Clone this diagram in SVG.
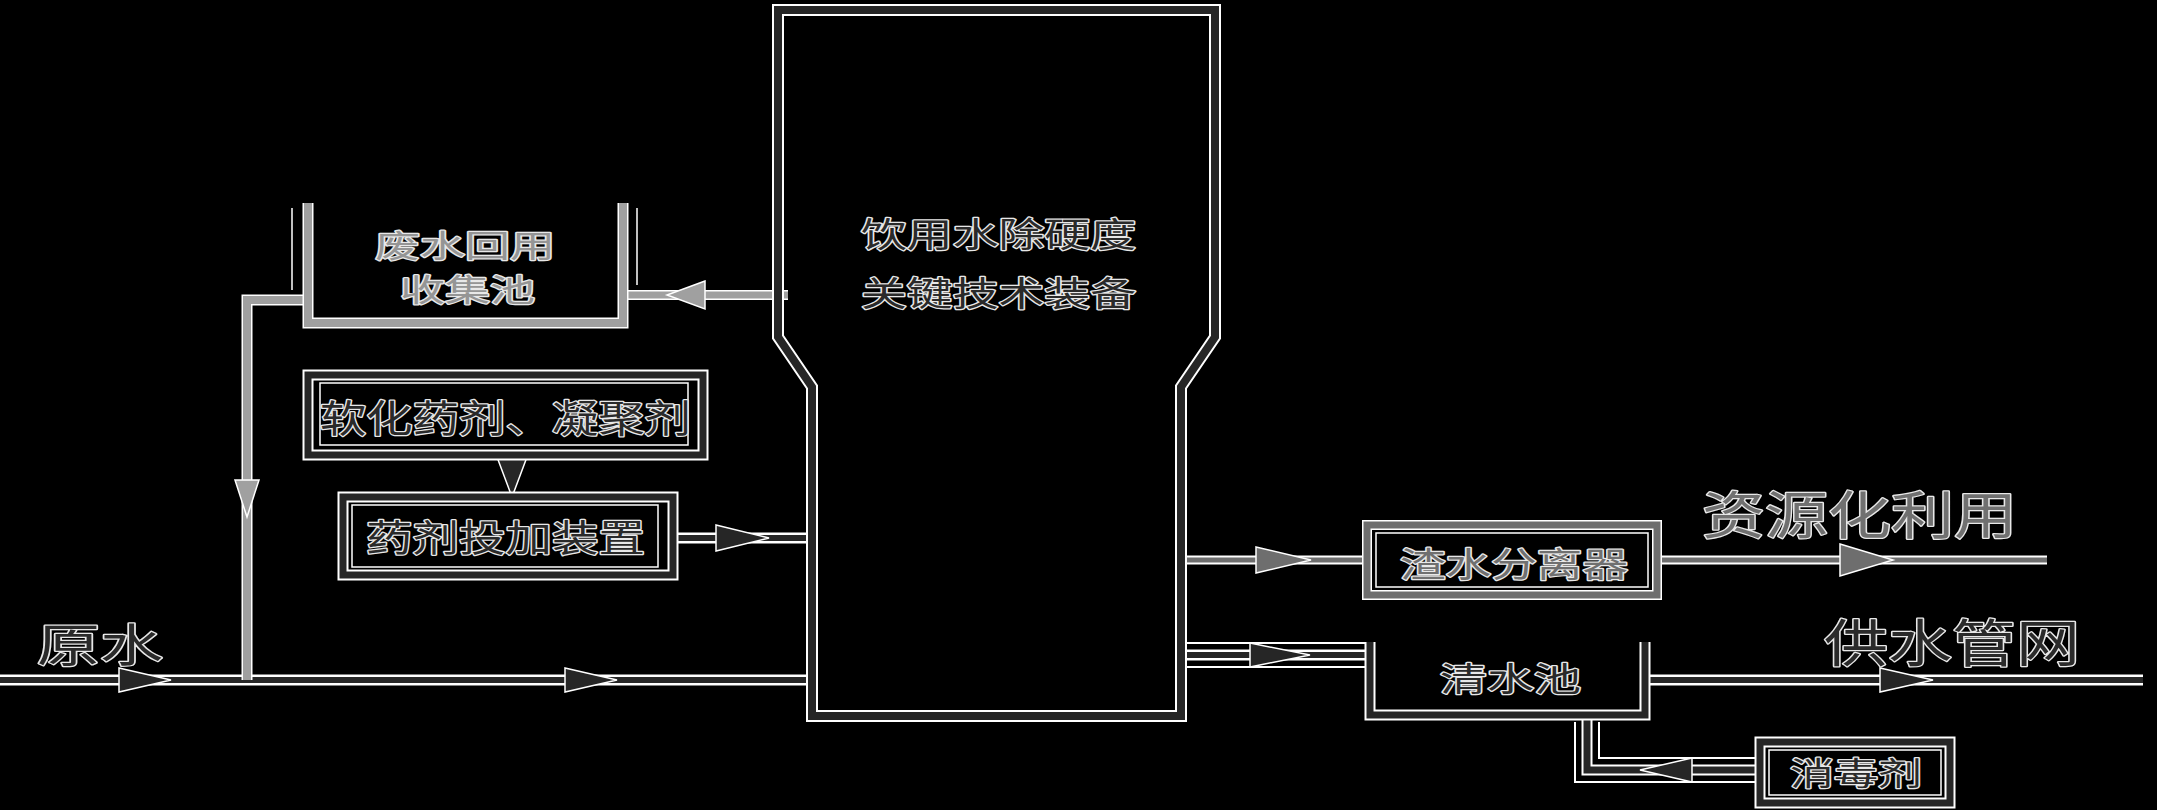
<svg xmlns="http://www.w3.org/2000/svg" width="2157" height="810" viewBox="0 0 2157 810">
<style>
.halo{fill:none;stroke:#fff;stroke-linejoin:miter}
.dk{fill:none;stroke:#262626;stroke-linejoin:miter}
.gr{fill:none;stroke:#a0a0a0;stroke-linejoin:miter}
.gm{fill:none;stroke:#6e6e6e;stroke-linejoin:miter}
.thin{fill:none;stroke:#fff;stroke-width:1.5}
.ahd{fill:#262626;stroke:#fff;stroke-width:1.5;stroke-linejoin:miter}
.ahg{fill:#a0a0a0;stroke:#fff;stroke-width:1.5;stroke-linejoin:miter}
.ahm{fill:#6e6e6e;stroke:#fff;stroke-width:1.5;stroke-linejoin:miter}
.tx{font-family:"Noto Sans CJK SC","Noto Sans CJK TC",sans-serif;dominant-baseline:central;paint-order:stroke;stroke:#e8e8e8;stroke-width:2.5;stroke-linejoin:round}
.td{fill:#2a2a2a}
.tg{fill:#959595}
.tm{fill:#707070}
</style>
<rect x="0" y="0" width="2157" height="810" fill="#000"/>

<g id="connectors">
  <path class="halo" stroke-width="11" d="M0,680 L812,680"/>
  <path class="dk" stroke-width="6" d="M0,680 L812,680"/>
  <polygon class="ahd" points="119,668 171,680 119,692"/>
  <polygon class="ahd" points="565,668 617,680 565,692"/>
  <path class="halo" stroke-width="11" d="M308,300 L247,300 L247,680"/>
  <path class="gr" stroke-width="8" d="M308,300 L247,300 L247,680"/>
  <polygon class="ahg" points="235,480 247,517 259,480"/>
  <path class="halo" stroke-width="10" d="M788,295 L627,295"/>
  <path class="gr" stroke-width="7" d="M788,295 L627,295"/>
  <polygon class="ahg" points="705,281 667,295 705,309"/>
  <polygon class="ahd" points="497,457 527,457 512,497"/>
  <path class="halo" stroke-width="11" d="M673,538 L810,538"/>
  <path class="dk" stroke-width="6" d="M673,538 L810,538"/>
  <polygon class="ahd" points="716,525 769,538 716,551"/>
  <path class="halo" stroke-width="9" d="M1183,560 L1367,560"/>
  <path class="gm" stroke-width="5" d="M1183,560 L1367,560"/>
  <polygon class="ahm" points="1256,547 1311,560 1256,573"/>
  <path class="halo" stroke-width="9" d="M1657,560 L2047,560"/>
  <path class="gm" stroke-width="5" d="M1657,560 L2047,560"/>
  <polygon class="ahm" points="1840,544 1893,560 1840,576"/>
  <path class="halo" stroke-width="26" d="M1186,655 L1366,655"/>
  <path fill="none" stroke="#000" stroke-width="22" d="M1186,655 L1366,655"/>
  <path class="halo" stroke-width="11" d="M1183,655 L1370,655"/>
  <path class="dk" stroke-width="6" d="M1183,655 L1370,655"/>
  <polygon class="ahd" points="1250,643 1310,655 1250,667"/>
  <path class="halo" stroke-width="11" d="M1645,680 L2143,680"/>
  <path class="dk" stroke-width="6" d="M1645,680 L2143,680"/>
  <polygon class="ahd" points="1880,668 1933,680 1880,692"/>
  <path class="halo" stroke-width="26" d="M1756,770 L1587,770 L1587,722"/>
  <path fill="none" stroke="#000" stroke-width="22" d="M1756,770 L1587,770 L1587,722"/>
  <path class="halo" stroke-width="11" d="M1760,770 L1587,770 L1587,715"/>
  <path class="dk" stroke-width="7" d="M1760,770 L1587,770 L1587,715"/>
  <polygon class="ahd" points="1692,758 1640,770 1692,782"/>
</g>

<g id="main-equipment">
  <path class="halo" stroke-width="12" d="M778,337 L778,10 L1215,10 L1215,337 L1181,387 L1181,716 L812,716 L812,387 Z"/>
  <path class="dk" stroke-width="8" d="M778,337 L778,10 L1215,10 L1215,337 L1181,387 L1181,716 L812,716 L812,387 Z"/>
  <text class="tx td" x="861" y="232" font-size="34" textLength="275" lengthAdjust="spacingAndGlyphs">饮用水除硬度</text>
  <text class="tx td" x="861" y="291" font-size="34" textLength="275" lengthAdjust="spacingAndGlyphs">关键技术装备</text>
</g>

<g id="waste-pool">
  <path class="halo" stroke-width="11" d="M308,203 L308,323 L623,323 L623,203"/>
  <path class="gr" stroke-width="8" d="M308,203 L308,323 L623,323 L623,203"/>
  <path class="thin" d="M292,208 L292,290 M637,208 L637,285"/>
  <text class="tx tg" x="375" y="243" font-size="31" textLength="180" lengthAdjust="spacingAndGlyphs">废水回用</text>
  <text class="tx tg" x="400" y="287" font-size="31" textLength="135" lengthAdjust="spacingAndGlyphs">收集池</text>
</g>

<g id="softener">
  <rect class="halo" stroke-width="11" x="308" y="375" width="395" height="80"/>
  <rect class="dk" stroke-width="7" x="308" y="375" width="395" height="80"/>
  <rect class="thin" x="320" y="383" width="368" height="62"/>
  <text class="tx td" x="320" y="415" font-size="38" textLength="371" lengthAdjust="spacingAndGlyphs">软化药剂、凝聚剂</text>
</g>

<g id="dosing">
  <rect class="halo" stroke-width="11" x="343" y="497" width="330" height="78"/>
  <rect class="dk" stroke-width="7" x="343" y="497" width="330" height="78"/>
  <rect class="thin" x="352" y="505" width="306" height="62"/>
  <text class="tx td" x="366" y="536" font-size="37" textLength="279" lengthAdjust="spacingAndGlyphs">药剂投加装置</text>
</g>

<g id="raw-water">
  <text class="tx td" x="37" y="642" font-size="45" textLength="126" lengthAdjust="spacingAndGlyphs">原水</text>
</g>

<g id="separator">
  <rect class="halo" stroke-width="10" x="1367" y="525" width="290" height="70"/>
  <rect class="gm" stroke-width="7" x="1367" y="525" width="290" height="70"/>
  <rect class="thin" x="1376" y="533" width="272" height="54"/>
  <text class="tx tm" x="1400" y="562" font-size="34" textLength="228" lengthAdjust="spacingAndGlyphs">渣水分离器</text>
</g>

<g id="resource-use">
  <text class="tx tm" x="1702" y="512" font-size="51" textLength="315" lengthAdjust="spacingAndGlyphs">资源化利用</text>
</g>

<g id="clear-pool">
  <path class="halo" stroke-width="11" d="M1370,642 L1370,715 L1645,715 L1645,642"/>
  <path class="dk" stroke-width="7" d="M1370,642 L1370,715 L1645,715 L1645,642"/>
  <text class="tx td" x="1440" y="677" font-size="33" textLength="141" lengthAdjust="spacingAndGlyphs">清水池</text>
</g>

<g id="supply-network">
  <text class="tx td" x="1824" y="640" font-size="51" textLength="256" lengthAdjust="spacingAndGlyphs">供水管网</text>
</g>

<g id="disinfectant">
  <rect class="halo" stroke-width="11" x="1760" y="742" width="190" height="61"/>
  <rect class="dk" stroke-width="7" x="1760" y="742" width="190" height="61"/>
  <rect class="thin" x="1769" y="750" width="172" height="45"/>
  <text class="tx td" x="1790" y="771" font-size="32" textLength="132" lengthAdjust="spacingAndGlyphs">消毒剂</text>
</g>
</svg>
